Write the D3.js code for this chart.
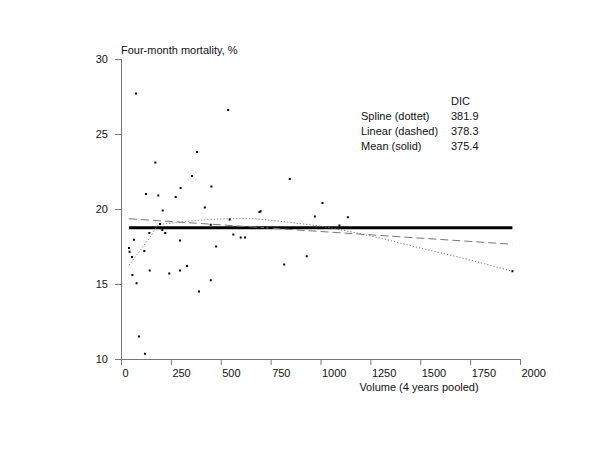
<!DOCTYPE html>
<html><head><meta charset="utf-8">
<script src="https://cdn.jsdelivr.net/npm/d3@7"></script>
<style>body{margin:0;background:#fff}svg{font-family:"Liberation Sans",Arial,sans-serif}</style>
</head><body>
<svg id="c" width="600" height="450"></svg>
<script>
const volume = [75,537,381,172,356,846,453,299,125,187,274,209,420,694,700,545,196,450,207,222,142,722,563,600,622,65,296,477,40,43,117,55,818,331,144,296,242,57,450,78,391,90,120,1010,972,1137,1095,931,1962];
const mortality = [27.7,26.6,23.8,23.1,22.2,22.0,21.5,21.4,21.0,20.9,20.8,19.9,20.1,19.8,19.85,19.3,19.0,18.95,18.6,18.4,18.4,18.75,18.3,18.1,18.1,17.95,17.9,17.5,17.4,17.15,17.2,16.8,16.3,16.2,15.9,15.9,15.7,15.6,15.25,15.05,14.5,11.5,10.35,20.4,19.5,19.45,18.9,16.85,15.85];
const splineX = [40,100,150,190,250,350,450,550,650,750,850,1000,1250,1500,1750,1962];
const splineY = [16.25,17.3,18.2,18.95,19.05,19.2,19.3,19.35,19.35,19.25,19.1,18.85,18.2,17.4,16.6,15.85];
const linearX = [40,1962];
const linearY = [19.35,17.65];
const meanX = [40,1962];
const meanY = [18.75,18.75];
const xTicks = [0,250,500,750,1000,1250,1500,1750,2000];
const yTicks = [10,15,20,25,30];
const legendRows = ["Spline (dottet)","Linear (dashed)","Mean (solid)"];
const dicValues = ["381.9","378.3","375.4"];

const svg = d3.select("#c");
const x = d3.scaleLinear().domain([0,2000]).range([121,520]);
const y = d3.scaleLinear().domain([10,30]).range([359,59]);

const xa = svg.append("g").attr("transform","translate(0,359)")
  .call(d3.axisBottom(x).tickValues(xTicks).tickSize(6).tickPadding(4).tickFormat(d3.format("d")));
const ya = svg.append("g").attr("transform","translate(121,0)")
  .call(d3.axisLeft(y).tickValues(yTicks).tickSize(6).tickPadding(7));
[xa,ya].forEach(a=>{
  a.selectAll("path,line").attr("stroke","#777");
  a.selectAll("text").attr("font-size",11).attr("fill","#111").attr("font-family","'Liberation Sans',Arial,sans-serif");
});
xa.selectAll(".tick text").attr("text-anchor","start").attr("dx",1);
ya.select(".domain").attr("d","M0.5,359V59");
xa.select(".domain").attr("d","M121,0.5H520");

const line = d3.line().x(d=>x(d[0])).y(d=>y(d[1]));
svg.append("path").datum(meanX.map((v,i)=>[v,meanY[i]])).attr("d",line)
  .attr("fill","none").attr("stroke","#000").attr("stroke-width",3);
svg.append("path").datum(linearX.map((v,i)=>[v,linearY[i]])).attr("d",line)
  .attr("fill","none").attr("stroke","#777").attr("stroke-width",1).attr("stroke-dasharray","8,4");
svg.append("path").datum(splineX.map((v,i)=>[v,splineY[i]])).attr("d",line.curve(d3.curveMonotoneX))
  .attr("fill","none").attr("stroke","#777").attr("stroke-width",1).attr("stroke-dasharray","1.2,2");

svg.append("g").selectAll("rect").data(volume.map((v,i)=>[v,mortality[i]])).join("rect")
  .attr("x",d=>x(d[0])-1).attr("y",d=>y(d[1])-1).attr("width",2).attr("height",2).attr("fill","#000");

svg.append("text").attr("x",121).attr("y",54).attr("font-size",11).attr("fill","#111").text("Four-month mortality, %");
svg.append("text").attr("x",419).attr("y",391).attr("text-anchor","middle").attr("font-size",11).attr("fill","#111").text("Volume (4 years pooled)");

const lg = svg.append("g").attr("font-size",11).attr("fill","#111");
lg.append("text").attr("x",451).attr("y",105).text("DIC");
legendRows.forEach((t,i)=>{
  lg.append("text").attr("x",361).attr("y",120+i*15).text(t);
  lg.append("text").attr("x",451).attr("y",120+i*15).text(dicValues[i]);
});
</script>
</body></html>
